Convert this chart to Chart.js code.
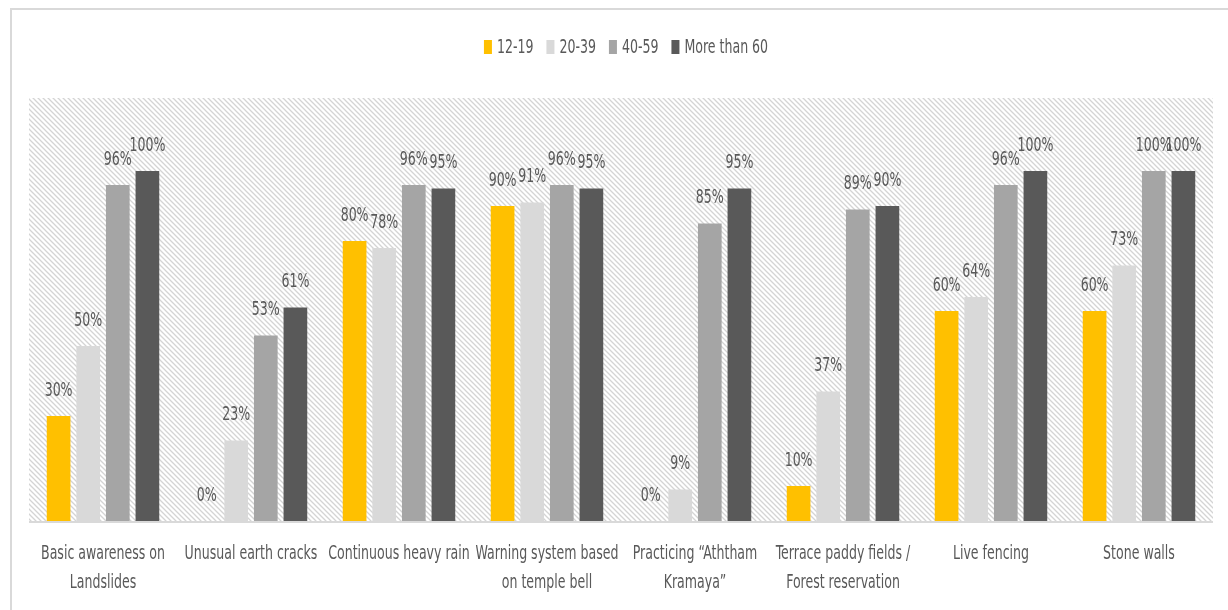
<!DOCTYPE html>
<html>
<head>
<meta charset="utf-8">
<script src="https://cdn.jsdelivr.net/npm/chart.js@4.4.1/dist/chart.umd.min.js"></script>
<style>
  html, body { margin: 0; padding: 0; background: #fff; }
  #wrap { position: relative; width: 1228px; height: 610px; overflow: hidden; }
  canvas { position: absolute; left: 0; top: 0; }
</style>
</head>
<body>
<div id="wrap"><canvas id="c" width="1228" height="610"></canvas></div>
<script>
const categories = [
  ["Basic awareness on", "Landslides"],
  ["Unusual earth cracks"],
  ["Continuous heavy rain"],
  ["Warning system based", "on temple bell"],
  ["Practicing \u201cAththam", "Kramaya\u201d"],
  ["Terrace paddy fields /", "Forest reservation"],
  ["Live fencing"],
  ["Stone walls"]
];
const seriesNames = ["12-19", "20-39", "40-59", "More than 60"];
const age12to19 = [30, 0, 80, 90, 0, 10, 60, 60];
const age20to39 = [50, 23, 78, 91, 9, 37, 64, 73];
const age40to59 = [96, 53, 96, 96, 85, 89, 96, 100];
const ageOver60 = [100, 61, 95, 95, 95, 90, 100, 100];
const seriesColors = ["#FFC000", "#D9D9D9", "#A5A5A5", "#595959"];

const FONT = "'Liberation Sans Narrow', 'DejaVu Sans Condensed', 'Arial Narrow', sans-serif";
const TEXT = "#595959";
const FS = 19;
const SX = 0.735; // horizontal squeeze to mimic a narrow font

function narrowText(ctx, str, x, y, size) {
  ctx.save();
  ctx.font = size + "px " + FONT;
  ctx.translate(x, y);
  ctx.scale(SX, 1);
  ctx.fillText(str, 0, 0);
  ctx.restore();
}
function narrowWidth(ctx, str, size) {
  ctx.save();
  ctx.font = size + "px " + FONT;
  const w = ctx.measureText(str).width * SX;
  ctx.restore();
  return w;
}

function makePattern(ctx) {
  const s = 5;
  const p = document.createElement('canvas');
  p.width = s; p.height = s;
  const g = p.getContext('2d');
  g.fillStyle = '#ffffff';
  g.fillRect(0, 0, s, s);
  g.strokeStyle = '#d4d4d4';
  g.lineWidth = 1.3;
  g.beginPath();
  g.moveTo(-1, -1); g.lineTo(s + 1, s + 1);
  g.moveTo(-1, s - 1); g.lineTo(1, s + 1);
  g.moveTo(s - 1, -1); g.lineTo(s + 1, 1);
  g.stroke();
  return ctx.createPattern(p, 'repeat');
}

const bgPlugin = {
  id: 'bg',
  beforeDraw(chart) {
    const ctx = chart.ctx;
    const a = chart.chartArea;
    ctx.save();
    ctx.strokeStyle = '#D9D9D9';
    ctx.lineWidth = 2;
    ctx.beginPath();
    ctx.moveTo(11, 610);
    ctx.lineTo(11, 9);
    ctx.lineTo(1228, 9);
    ctx.stroke();
    ctx.fillStyle = makePattern(ctx);
    ctx.fillRect(a.left, a.top - 3, a.right - a.left, a.bottom - a.top + 3);
    ctx.restore();
  },
  afterDatasetsDraw(chart) {
    const ctx = chart.ctx;
    const a = chart.chartArea;
    ctx.save();
    ctx.strokeStyle = '#D9D9D9';
    ctx.lineWidth = 2;
    ctx.beginPath();
    ctx.moveTo(a.left, a.bottom + 1);
    ctx.lineTo(a.right, a.bottom + 1);
    ctx.stroke();

    ctx.fillStyle = TEXT;
    ctx.textAlign = 'center';
    ctx.textBaseline = 'middle';
    chart.data.datasets.forEach((ds, i) => {
      const meta = chart.getDatasetMeta(i);
      meta.data.forEach((bar, j) => {
        narrowText(ctx, ds.data[j] + '%', bar.x, bar.y - 25, FS);
      });
    });
    const xs = chart.scales.x;
    chart.data.labels.forEach((lab, j) => {
      const x = xs.getPixelForTick(j);
      lab.forEach((line, k) => {
        narrowText(ctx, line, x, a.bottom + 33 + k * 29, FS);
      });
    });
    const boxW = 8, boxH = 14, gap = 5, spacing = 13;
    const widths = seriesNames.map(n => boxW + gap + narrowWidth(ctx, n, FS));
    const total = widths.reduce((s, w) => s + w, 0) + spacing * (widths.length - 1);
    let lx = (a.left + a.right) / 2 - total / 2 + 5;
    const ly = 47;
    ctx.textAlign = 'left';
    seriesNames.forEach((n, i) => {
      ctx.fillStyle = seriesColors[i];
      ctx.fillRect(lx, ly - boxH / 2, boxW, boxH);
      ctx.fillStyle = TEXT;
      narrowText(ctx, n, lx + boxW + gap, ly + 1, FS);
      lx += widths[i] + spacing;
    });
    ctx.restore();
  }
};

const allSeries = [age12to19, age20to39, age40to59, ageOver60];

new Chart(document.getElementById('c'), {
  type: 'bar',
  data: {
    labels: categories,
    datasets: allSeries.map((d, i) => ({
      label: seriesNames[i],
      data: d,
      backgroundColor: seriesColors[i],
      borderWidth: 0,
      categoryPercentage: 0.8,
      barPercentage: 0.8
    }))
  },
  options: {
    responsive: false,
    animation: false,
    devicePixelRatio: 1,
    layout: { padding: { left: 29, right: 15, top: 101, bottom: 0 } },
    plugins: {
      legend: { display: false },
      tooltip: { enabled: false }
    },
    scales: {
      x: {
        grid: { display: false },
        border: { display: false },
        ticks: { display: false },
        afterFit(s) { s.height = 89; }
      },
      y: {
        display: false,
        min: 0,
        max: 120
      }
    }
  },
  plugins: [bgPlugin]
});
</script>
</body>
</html>
